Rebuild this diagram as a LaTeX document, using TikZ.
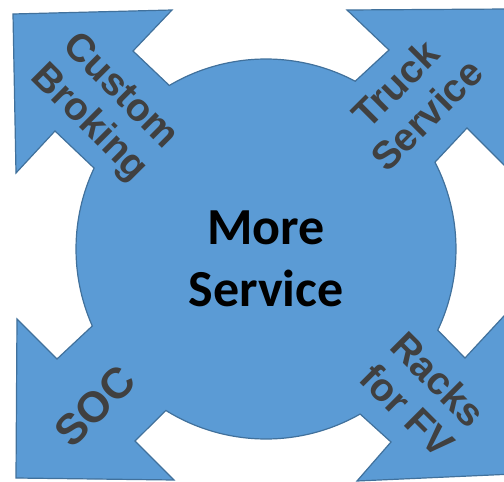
\documentclass[tikz,border=0pt]{standalone}
\usepackage{fontspec}
\setmainfont{Liberation Sans}
\newfontfamily\calibrifont{Carlito}
\usetikzlibrary{calc}
\definecolor{shapeblue}{HTML}{5B9BD5}
\definecolor{edgeblue}{HTML}{41719C}
\definecolor{labelgray}{HTML}{404040}
\tikzset{
  lbl/.style={text=labelgray, font=\bfseries\fontsize{39}{44}\selectfont, align=center, inner sep=0pt},
  hub/.style={font=\calibrifont\bfseries\fontsize{52}{62}\selectfont, align=center, inner sep=0pt}
}
\begin{document}
\begin{tikzpicture}[x=1pt,y=1pt]
\useasboundingbox (0,0) rectangle (504,-482);
\clip (0,0) rectangle (504,-482);

% centre of the circle
\coordinate (c) at (266,-249);

%--- Circle with four arrows ---
\filldraw[fill=shapeblue, draw=edgeblue, line width=1.2pt, line join=miter]
  ($(c)+(120.6:190pt)$) arc[start angle=120.6, end angle=62, radius=190pt]
  -- (389,-50) -- (347,-10) -- (508,-9) -- (516,-177) -- (467,-128) % truck
  -- ($(c)+(27.2:190pt)$) arc[start angle=27.2, end angle=-25.3, radius=190pt]
  -- (465,-358) -- (516,-303) -- (514,-474) -- (357,-481) -- (391,-442) % racks
  -- ($(c)+(-60.3:190pt)$) arc[start angle=-60.3, end angle=-121.8, radius=190pt]
  -- (135,-441) -- (174,-480) -- (16,-478) -- (17,-319) -- (57,-359) % soc
  -- ($(c)+(203.9:190pt)$) arc[start angle=203.9, end angle=154.8, radius=190pt]
  -- (55,-131) -- (16,-173) -- (13,-14) -- (172,-10) -- (133,-51) -- cycle; % custom

%--- Labels ---
\node[hub] (more) at (266,-259) {More\\Service};
\node[lbl, rotate=-45] (custom) at (104,-108) {Custom\\Broking};
\node[lbl, rotate=45] (truck) at (411,-99) {Truck\\Service};
\node[lbl, rotate=45, font=\bfseries\fontsize{43}{48}\selectfont] (soc) at (95,-406) {SOC};
\node[lbl, rotate=-45] (racks) at (423,-395) {Racks\\for FV};

\end{tikzpicture}
\end{document}
